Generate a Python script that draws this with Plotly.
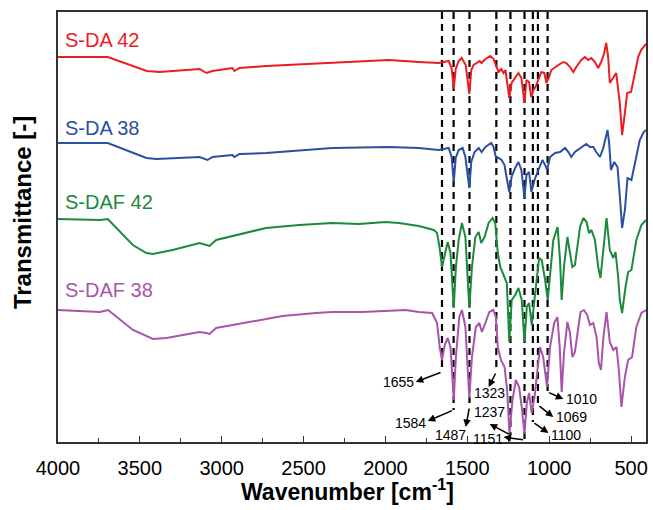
import plotly.graph_objects as go

# ---- data (wavenumber in cm^-1, transmittance in arbitrary offset units) ----
sda42_wn = [4000, 3696, 3458, 3379, 3136, 3093, 3057, 2935, 2923, 2892, 2728, 2326, 1979, 1796, 1675, 1644, 1614, 1596, 1583, 1571, 1553, 1535, 1510, 1488, 1476, 1462, 1443, 1425, 1413, 1390, 1360, 1340, 1322, 1309, 1293, 1279, 1267, 1255, 1244, 1230, 1208, 1188, 1170, 1151, 1139, 1123, 1110, 1096, 1084, 1066, 1048, 1030, 1017, 1001, 987, 944, 914, 896, 873, 853, 835, 804, 782, 762, 743, 721, 701, 683, 664, 652, 640, 630, 609, 591, 569, 555, 538, 524, 500, 477, 457, 439, 409]
sda42_t = [385, 385, 371, 370, 373, 369, 371, 374, 371, 374, 376, 379, 382, 380, 379, 380, 381, 374, 353, 373, 381, 384, 377, 348, 372, 377, 379, 381, 379, 383, 386, 383, 375, 370, 373, 369, 372, 357, 344, 359, 365, 369, 364, 339, 362, 360, 345, 352, 355, 362, 370, 369, 359, 365, 372, 377, 380, 379, 375, 370, 375, 382, 385, 382, 384, 380, 374, 380, 389, 399, 385, 359, 365, 369, 339, 307, 329, 349, 350, 369, 385, 392, 398]

sda38_wn = [4000, 3696, 3460, 3399, 3136, 3087, 3057, 2935, 2923, 2892, 2728, 2326, 1979, 1796, 1675, 1614, 1596, 1583, 1571, 1553, 1529, 1512, 1488, 1476, 1456, 1431, 1413, 1390, 1354, 1340, 1326, 1309, 1291, 1273, 1261, 1244, 1230, 1208, 1188, 1170, 1151, 1139, 1123, 1109, 1090, 1078, 1062, 1042, 1025, 1013, 995, 964, 934, 903, 883, 865, 843, 804, 774, 751, 731, 713, 690, 670, 656, 644, 634, 623, 603, 583, 567, 555, 538, 522, 498, 474, 447, 423, 409]
sda38_t = [299, 299, 284, 283, 285, 282, 285, 287, 285, 288, 289, 294, 295, 294, 292, 294, 285, 260, 284, 292, 294, 285, 254, 280, 290, 294, 290, 295, 299, 295, 285, 284, 282, 277, 265, 250, 265, 274, 280, 272, 244, 267, 270, 250, 262, 267, 274, 282, 277, 272, 285, 289, 290, 294, 290, 285, 290, 295, 298, 295, 295, 290, 285, 294, 304, 312, 299, 272, 280, 275, 242, 214, 232, 264, 262, 282, 302, 310, 312]

sdaf42_wn = [4000, 3744, 3696, 3643, 3543, 3460, 3422, 3300, 3136, 3075, 3034, 2730, 2527, 2326, 2162, 1999, 1918, 1796, 1705, 1685, 1670, 1655, 1638, 1620, 1603, 1583, 1570, 1553, 1533, 1512, 1488, 1472, 1451, 1431, 1415, 1395, 1370, 1346, 1330, 1314, 1299, 1279, 1259, 1244, 1229, 1208, 1188, 1168, 1151, 1137, 1123, 1107, 1090, 1076, 1062, 1046, 1025, 1009, 995, 975, 949, 934, 924, 910, 889, 873, 859, 843, 829, 812, 792, 772, 757, 742, 721, 701, 687, 670, 650, 630, 609, 595, 579, 569, 555, 534, 518, 498, 468, 437, 409]
sdaf42_t = [223, 222, 223, 214, 197, 189, 188, 192, 199, 196, 202, 214, 217, 219, 218, 220, 219, 216, 212, 209, 195, 175, 187, 200, 189, 134, 175, 202, 219, 205, 134, 175, 205, 210, 199, 205, 219, 224, 219, 189, 175, 167, 159, 100, 142, 147, 154, 142, 100, 135, 139, 117, 142, 162, 184, 182, 162, 142, 169, 202, 215, 182, 142, 175, 205, 189, 175, 177, 192, 215, 224, 220, 209, 212, 202, 175, 164, 192, 224, 192, 184, 190, 165, 142, 129, 155, 170, 172, 202, 217, 222]

sdaf38_wn = [4000, 3744, 3694, 3643, 3542, 3420, 3338, 3237, 3136, 3095, 3075, 3034, 2831, 2629, 2425, 2324, 2142, 2020, 1877, 1796, 1715, 1685, 1669, 1655, 1638, 1620, 1603, 1583, 1570, 1549, 1533, 1512, 1488, 1472, 1448, 1427, 1411, 1390, 1366, 1342, 1326, 1314, 1295, 1273, 1257, 1243, 1224, 1204, 1184, 1168, 1151, 1137, 1123, 1107, 1090, 1072, 1056, 1037, 1013, 995, 970, 950, 936, 924, 910, 889, 873, 859, 843, 827, 809, 788, 768, 751, 731, 711, 697, 684, 669, 650, 630, 609, 589, 575, 559, 538, 518, 494, 468, 437, 409]
sdaf38_t = [132, 130, 132, 125, 112, 103, 104, 107, 110, 109, 108, 114, 120, 126, 129, 130, 130, 131, 132, 130, 129, 119, 95, 82, 97, 104, 95, 42, 85, 125, 132, 115, 44, 85, 115, 119, 110, 119, 130, 132, 125, 95, 82, 75, 52, 9, 42, 62, 55, 35, 8, 39, 49, 29, 45, 72, 95, 85, 55, 95, 119, 125, 95, 50, 89, 120, 109, 85, 90, 109, 130, 132, 127, 117, 119, 105, 79, 72, 105, 130, 100, 92, 95, 72, 35, 65, 82, 85, 115, 129, 132]

series_names = ["S-DA 42", "S-DA 38", "S-DAF 42", "S-DAF 38"]
series_colors = ["#ec1c24", "#2b4fa3", "#1b8a3b", "#a954ab"]
label_levels = [402, 314, 240, 152]

# marked bands: wavenumber, lower end of dashed line, arrow head, label position
band_wn = [1655, 1584, 1487, 1323, 1237, 1151, 1100, 1069, 1010]
band_labels = ["1655", "1584", "1487", "1323", "1237", "1151", "1100", "1069", "1010"]
band_line_end = [70, 32, 35, 70, 7, 2, 20, 37, 50]
arrow_head_wn = [1815, 1742, 1510, 1370, 1364, 1279, 1005, 975, 914]
arrow_head_t = [60, 21, 15, 55, 18, 5, 9, 25, 43]
label_wn = [1918, 1845, 1602, 1364, 1364, 1376, 896, 865, 804]
label_t = [60, 19, 7, 49, 30, 3, 7, 25, 43]
line_top = 430

x_ticks = [4000, 3500, 3000, 2500, 2000, 1500, 1000, 500]

FONT = "Liberation Sans, Arial, sans-serif"

fig = go.Figure()

for wn, end in zip(band_wn, band_line_end):
    fig.add_trace(go.Scatter(x=[wn, wn], y=[line_top, end], mode="lines",
                             line=dict(color="black", width=2.2, dash="7px,5px"),
                             showlegend=False, hoverinfo="skip"))

all_wn = [sda42_wn, sda38_wn, sdaf42_wn, sdaf38_wn]
all_t = [sda42_t, sda38_t, sdaf42_t, sdaf38_t]
for name, wn, t, c in zip(series_names, all_wn, all_t, series_colors):
    fig.add_trace(go.Scatter(x=wn, y=t, mode="lines", name=name,
                             line=dict(color=c, width=2), showlegend=False))

annotations = []
for name, c, lvl in zip(series_names, series_colors, label_levels):
    annotations.append(dict(x=3970, y=lvl, xref="x", yref="y", text=name,
                            showarrow=False, xanchor="left", yanchor="middle",
                            font=dict(family=FONT, size=20, color=c)))

for i in range(len(band_wn)):
    annotations.append(dict(x=arrow_head_wn[i], y=arrow_head_t[i], xref="x", yref="y",
                            ax=band_wn[i], ay=band_line_end[i], axref="x", ayref="y",
                            text="", showarrow=True, arrowhead=2, arrowsize=1,
                            arrowwidth=1.5, arrowcolor="black", standoff=0, startstandoff=0))
    annotations.append(dict(x=label_wn[i], y=label_t[i], xref="x", yref="y",
                            text=band_labels[i], showarrow=False,
                            xanchor="center", yanchor="middle",
                            font=dict(family=FONT, size=14, color="black")))

annotations.append(dict(x=0.4915, y=-0.1116, xref="paper", yref="paper",
                        text="<b>Wavenumber [cm<sup>-1</sup>]</b>", showarrow=False,
                        xanchor="center", yanchor="middle",
                        font=dict(family=FONT, size=23, color="black")))
annotations.append(dict(x=-0.0593, y=0.5326, xref="paper", yref="paper",
                        text="<b>Transmittance [-]</b>", showarrow=False, textangle=-90,
                        xanchor="center", yanchor="middle",
                        font=dict(family=FONT, size=24, color="black")))

fig.update_layout(
    width=653, height=510,
    margin=dict(l=58, r=5, t=12, b=68),
    plot_bgcolor="white", paper_bgcolor="white",
    annotations=annotations,
    font=dict(family=FONT, color="black"),
)
fig.update_xaxes(range=[4000, 409], tickvals=x_ticks, ticktext=[str(v) for v in x_ticks],
                 ticks="inside", ticklen=6, tickwidth=1.3, tickcolor="#333",
                 minor=dict(dtick=250, tick0=0, ticks="inside", ticklen=4, tickwidth=1.3, tickcolor="#333"),
                 showline=True, linecolor="#333", linewidth=1.5, mirror=True,
                 showgrid=False, zeroline=False,
                 tickfont=dict(family=FONT, size=20, color="black"), ticklabelstandoff=7)
fig.update_yaxes(range=[0, 430], showticklabels=False, ticks="",
                 showline=True, linecolor="#333", linewidth=1.5, mirror=True,
                 showgrid=False, zeroline=False)

fig.write_html("out.html", config={"displayModeBar": False},
               post_script="document.body.style.margin='0';document.documentElement.style.overflow='hidden';document.body.style.overflow='hidden';")
